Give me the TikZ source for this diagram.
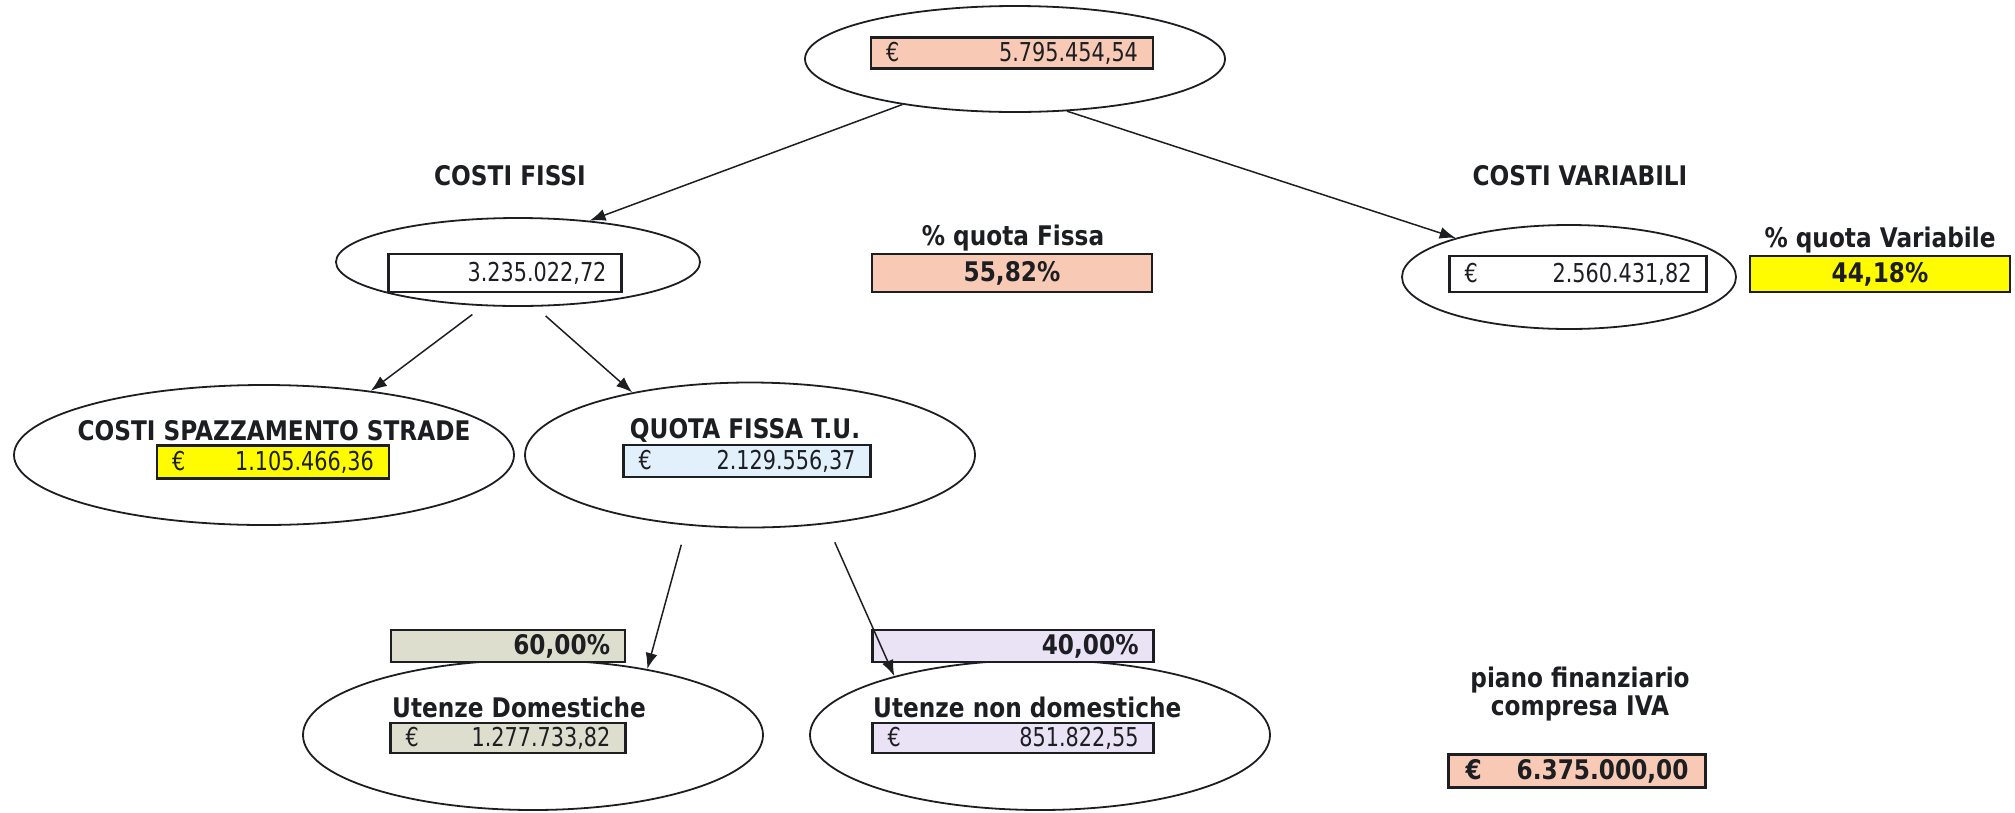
\documentclass[tikz,border=0pt]{standalone}
\usepackage{fontspec}
\setmainfont{DejaVu Sans}[FakeStretch=0.8]
\newfontfamily\grassetto{DejaVu Sans}[FakeStretch=0.86]
\usetikzlibrary{shapes.geometric, arrows.meta}
\definecolor{salmone}{RGB}{248,202,182}
\definecolor{giallo}{RGB}{255,252,0}
\definecolor{azzurro}{RGB}{226,240,252}
\definecolor{grigio}{RGB}{222,222,207}
\definecolor{lilla}{RGB}{234,227,245}
\definecolor{inchiostro}{RGB}{28,30,34}
\newcommand{\cifra}{\fontsize{26}{28}\selectfont}
\newcommand{\etich}{\grassetto\bfseries\fontsize{27}{28}\selectfont}

\begin{document}
\begin{tikzpicture}[x=1pt,y=1pt,yscale=-1,
  oval/.style={ellipse, draw=inchiostro, line width=1.8pt, inner sep=0pt},
  valbox/.style={draw=inchiostro, line width=2.2pt, inner xsep=15pt, inner ysep=0pt, font=\cifra, text=inchiostro},
  lbl/.style={font=\etich, text=inchiostro, inner sep=0pt},
  freccia/.style={draw=inchiostro, line width=1.5pt, -{Latex[length=16pt,width=12pt]}}]
\useasboundingbox (0,0) rectangle (2015,812);

% Ellipses
\node[oval, minimum width=420, minimum height=106] (tot) at (1015,59) {};
\node[oval, minimum width=364, minimum height=88] (fissi) at (518,262) {};
\node[oval, minimum width=334, minimum height=104] (var) at (1569,277) {};
\node[oval, minimum width=500, minimum height=140] (spazz) at (264,455) {};
\node[oval, minimum width=450, minimum height=145] (tu) at (750,455) {};
\node[oval, minimum width=460, minimum height=150] (dom) at (533,735) {};
\node[oval, minimum width=460, minimum height=150] (non) at (1040,735) {};

% Value boxes
\node[valbox, fill=salmone, text width=252pt, minimum height=31] (vtot) at (1012,53) {€\hfill 5.795.454,54};
\node[valbox, fill=white, text width=203pt, minimum height=38, align=right] (vfissi) at (505,273) {3.235.022,72};
\node[valbox, fill=salmone, text width=250pt, minimum height=38, align=center, font=\etich] (pfissa) at (1012,273) {55,82\%};
\node[valbox, fill=white, text width=227pt, minimum height=36] (vvar) at (1578,274) {€\hfill 2.560.431,82};
\node[valbox, fill=giallo, text width=230pt, minimum height=36, align=center, font=\etich] (pvar) at (1880,274) {44,18\%};
\node[valbox, fill=giallo, text width=202pt, minimum height=33] (vspazz) at (273,462) {€\hfill 1.105.466,36};
\node[valbox, fill=azzurro, text width=217pt, minimum height=32] (vtu) at (747,461) {€\hfill 2.129.556,37};
\node[valbox, fill=grigio, text width=204pt, minimum height=32, align=right, font=\etich] (pdom) at (508,646) {60,00\%};
\node[valbox, fill=lilla, text width=251pt, minimum height=32, align=right, font=\etich] (pnon) at (1013,646) {40,00\%};
\node[valbox, fill=grigio, text width=205pt, minimum height=30] (vdom) at (508,738) {€\hfill 1.277.733,82};
\node[valbox, fill=lilla, text width=251pt, minimum height=30] (vnon) at (1013,738) {€\hfill 851.822,55};
\node[valbox, fill=salmone, inner xsep=17pt, text width=223pt, minimum height=33, font=\etich] (vpiano) at (1577,771) {€\hfill 6.375.000,00};

% Arrows
\draw[freccia] (tot.202) -- (fissi.30);
\draw[freccia] (tot.315) -- (var.161);
\draw[freccia, shorten <=14pt] (fissi.232) -- (spazz.31);
\draw[freccia, shorten <=14pt] (fissi.291) -- (tu.152);
\draw[freccia, shorten <=20pt] (tu.228) -- (dom.30);
\draw[freccia, shorten <=20pt] (tu.318) -- (non.158);

% Text Node
\node[lbl] (tfissi) at (510,176) {COSTI FISSI};
\node[lbl] (tvar) at (1580,176) {COSTI VARIABILI};
\node[lbl] (tpfissa) at (1013,238) {\% quota Fissa};
\node[lbl] (tpvar) at (1880,240) {\% quota Variabile};
\node[lbl] (tspazz) at (274,431) {COSTI SPAZZAMENTO STRADE};
\node[lbl] (ttu) at (745,430) {QUOTA FISSA T.U.};
\node[lbl] (tdom) at (519,707) {Utenze Domestiche};
\node[lbl, anchor=west] (tnon) at (873,707) {Utenze non domestiche};
\node[lbl, align=center] (tpiano) at (1580,694) {piano finanziario\\compresa IVA};

\end{tikzpicture}
\end{document}
